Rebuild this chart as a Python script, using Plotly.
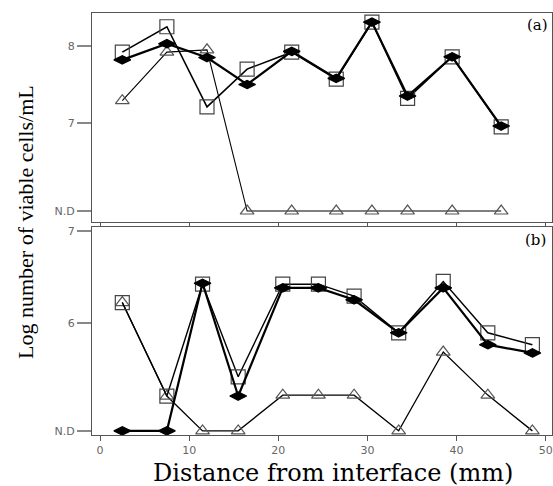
import plotly.graph_objects as go

ND_A = 5.857
ND_B = 4.82

# Panel (a)
xa = [2.5, 7.5, 12, 16.5, 21.5, 26.5, 30.5, 34.5, 39.5, 45]
a_square = [7.92, 8.25, 7.21, 7.70, 7.92, 7.57, 8.31, 7.32, 7.86, 6.95]
a_diamond = [7.82, 8.03, 7.85, 7.50, 7.93, 7.58, 8.31, 7.35, 7.86, 6.96]
a_triangle = [7.29, 7.92, 7.95, ND_A, ND_A, ND_A, ND_A, ND_A, ND_A, ND_A]

# Panel (b)
xb = [2.5, 7.5, 11.5, 15.5, 20.5, 24.5, 28.5, 33.5, 38.5, 43.5, 48.5]
b_square = [6.22, 5.20, 6.42, 5.41, 6.42, 6.42, 6.29, 5.89, 6.45, 5.89, 5.76]
b_diamond = [ND_B, ND_B, 6.43, 5.20, 6.38, 6.38, 6.25, 5.89, 6.38, 5.76, 5.67]
b_triangle = [6.22, 5.20, ND_B, ND_B, 5.21, 5.21, 5.21, ND_B, 5.68, 5.21, ND_B]

xticks = [0, 10, 20, 30, 40, 50]
a_yticks = [ND_A, 7, 8]
a_ylabels = ["N.D", "7", "8"]
b_yticks = [ND_B, 6, 7]
b_ylabels = ["N.D", "6", "7"]

fig = go.Figure()

def add_series(x, y, xaxis, yaxis, symbol, size, lw, mcolor, fill):
    fig.add_trace(go.Scatter(
        x=x, y=y, xaxis=xaxis, yaxis=yaxis, mode="lines+markers",
        line=dict(color="black", width=lw),
        marker=dict(symbol=symbol, size=size, color=fill,
                    line=dict(color=mcolor, width=1.2)),
        showlegend=False, cliponaxis=False))

# panel a
add_series(xa, a_triangle, "x", "y", "triangle-up-open", 12, 1.1, "#555555", "#555555")
add_series(xa, a_square, "x", "y", "square-open", 14, 1.6, "#444444", "#444444")
add_series(xa, a_diamond, "x", "y", "diamond-wide", 12, 2.2, "black", "black")
# panel b
add_series(xb, b_triangle, "x2", "y2", "triangle-up-open", 12, 1.3, "#555555", "#555555")
add_series(xb, b_square, "x2", "y2", "square-open", 14, 1.4, "#444444", "#444444")
add_series(xb, b_diamond, "x2", "y2", "diamond-wide", 12, 2.2, "black", "black")

tickfont = dict(family="DejaVu Sans", size=11, color="#666666")
common_x = dict(range=[-0.9, 50.7], tickvals=xticks, showgrid=False, zeroline=False,
                showline=True, linecolor="#555555", linewidth=1, mirror=True,
                ticks="outside", tickcolor="#555555", tickfont=tickfont,
                automargin=False)
common_y = dict(showgrid=False, zeroline=False, showline=True, linecolor="#555555",
                linewidth=1, mirror=True, ticks="outside", ticklen=14,
                tickcolor="#888888", tickwidth=1.5, tickfont=tickfont,
                automargin=False)

L, R, T, B = 92, 1, 13, 51
W, H = 553, 486
pw = W - L - R
ph = H - T - B

def px2paper(px, py):
    return (px - L) / pw, (H - B - py) / ph

annots = []
for text, (px, py), fam, size, ang in [
        ("(a)", (537, 25), "DejaVu Serif", 15, 0),
        ("(b)", (535, 240), "DejaVu Serif", 15, 0),
        ("Distance from interface (mm)", (333, 473), "DejaVu Serif", 24, 0),
        ("Log number of viable cells/mL", (26, 222), "Liberation Serif", 22, -90)]:
    xx, yy = px2paper(px, py)
    annots.append(dict(text=text, x=xx, y=yy, xref="paper", yref="paper",
                       xanchor="center", yanchor="middle", textangle=ang,
                       showarrow=False, font=dict(family=fam, size=size, color="black")))

fig.update_layout(
    width=W, height=H,
    margin=dict(l=L, r=R, t=T, b=B),
    paper_bgcolor="white", plot_bgcolor="white",
    xaxis=dict(**common_x, anchor="y", ticklen=3, showticklabels=False),
    yaxis=dict(**common_y, domain=[0.5047, 1], range=[5.714, 8.4286],
               tickvals=a_yticks, ticktext=a_ylabels),
    xaxis2=dict(**common_x, anchor="y2", ticklen=5),
    yaxis2=dict(**common_y, domain=[0, 0.4929], range=[4.775, 7.044],
                tickvals=b_yticks, ticktext=b_ylabels),
    annotations=annots,
)

fig.write_html("out.html", config={"displayModeBar": False},
               post_script="document.body.style.margin='0';document.body.style.overflow='hidden';")
